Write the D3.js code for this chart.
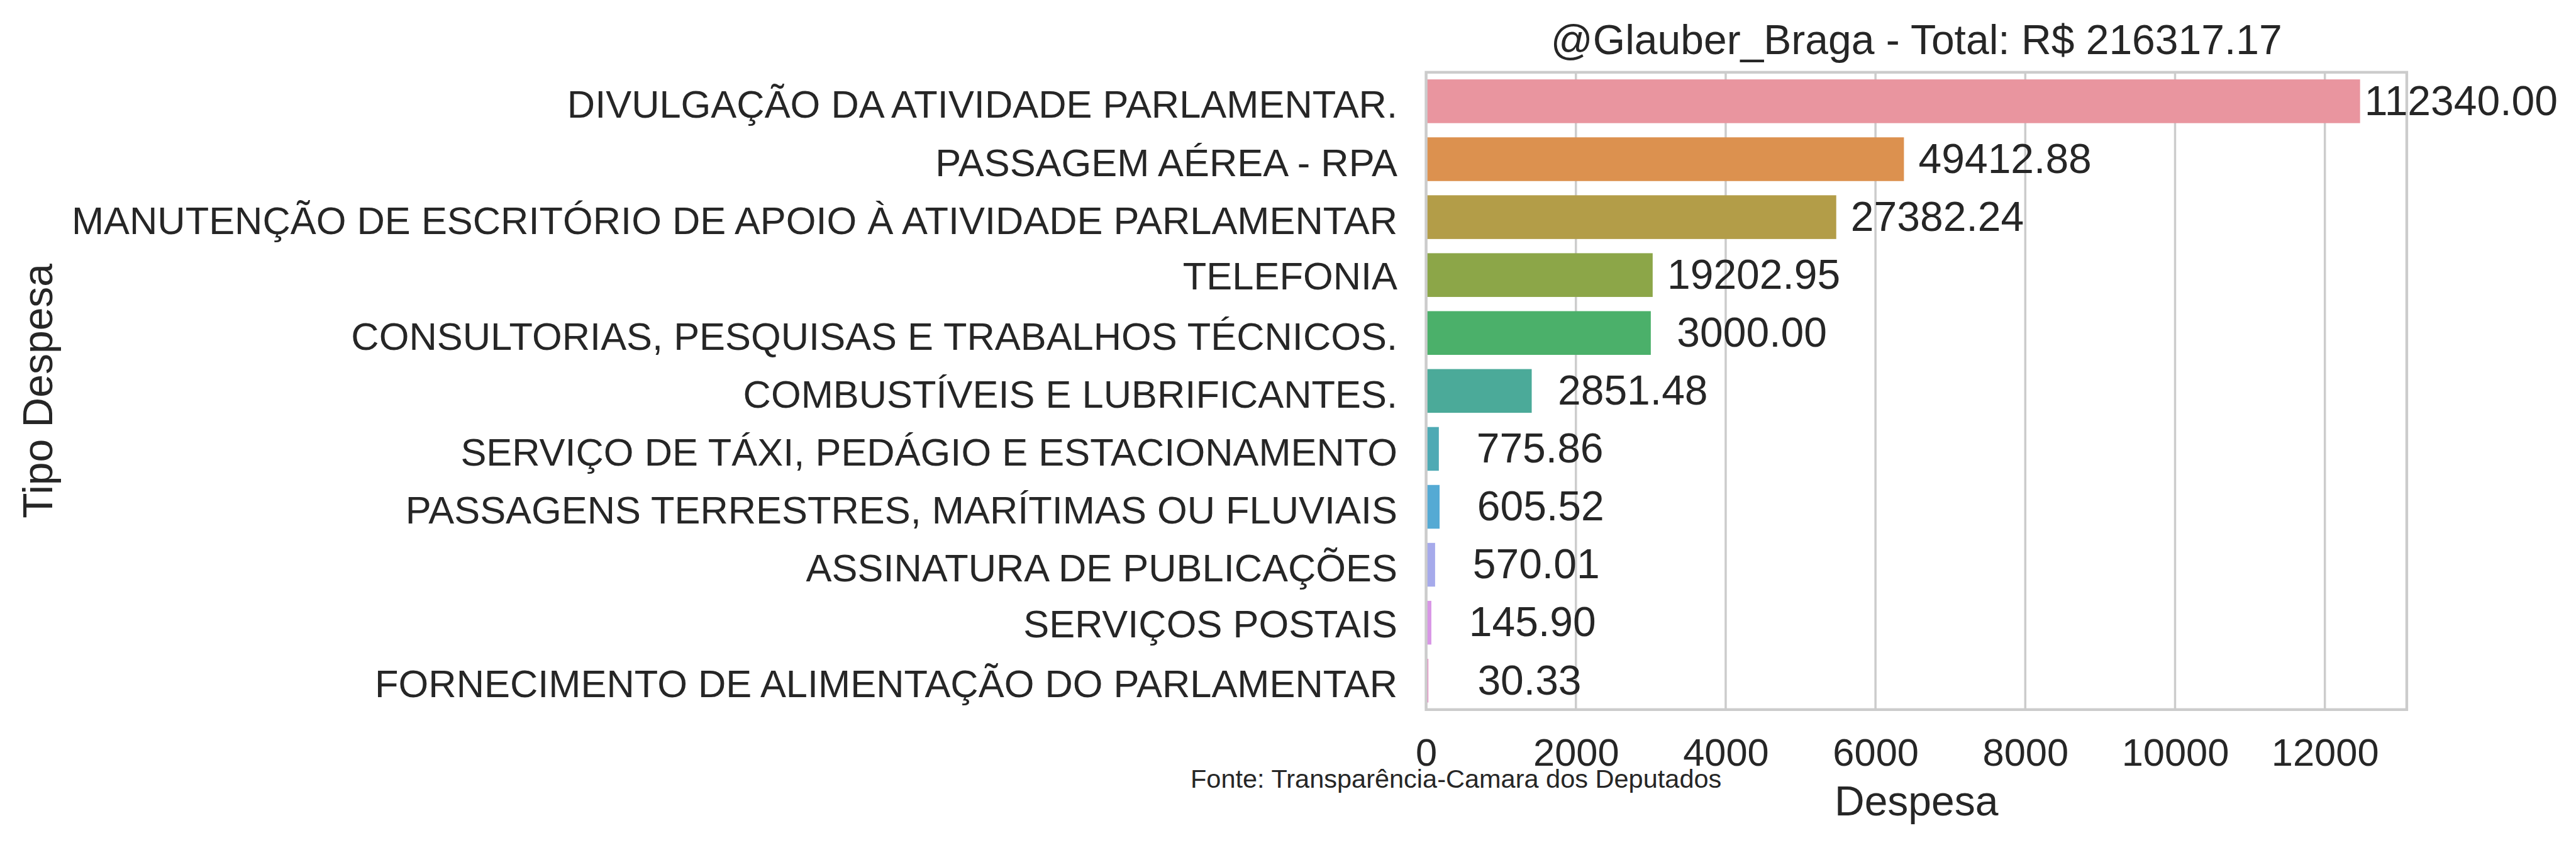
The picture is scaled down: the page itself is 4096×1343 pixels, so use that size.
<!DOCTYPE html>
<html>
<head>
<meta charset="utf-8">
<script src="https://cdn.jsdelivr.net/npm/d3@7"></script>
<style>
  html, body { margin: 0; padding: 0; background: #ffffff; }
  svg { display: block; }
  text { font-family: "Liberation Sans", Arial, sans-serif; fill: #262626; }
</style>
</head>
<body>
<script>
// ---- data ----
const categories = [
  "DIVULGAÇÃO DA ATIVIDADE PARLAMENTAR.",
  "PASSAGEM AÉREA - RPA",
  "MANUTENÇÃO DE ESCRITÓRIO DE APOIO À ATIVIDADE PARLAMENTAR",
  "TELEFONIA",
  "CONSULTORIAS, PESQUISAS E TRABALHOS TÉCNICOS.",
  "COMBUSTÍVEIS E LUBRIFICANTES.",
  "SERVIÇO DE TÁXI, PEDÁGIO E ESTACIONAMENTO",
  "PASSAGENS TERRESTRES, MARÍTIMAS OU FLUVIAIS",
  "ASSINATURA DE PUBLICAÇÕES",
  "SERVIÇOS POSTAIS",
  "FORNECIMENTO DE ALIMENTAÇÃO DO PARLAMENTAR"
];
// bar lengths (as drawn)
const barValues = [12470, 6380, 5476, 3025, 3000, 1410, 170, 180, 120, 70, 30.33];
// annotated totals
const labelValues = ["112340.00", "49412.88", "27382.24", "19202.95", "3000.00", "2851.48", "775.86", "605.52", "570.01", "145.90", "30.33"];
const colors = ["#e9959f", "#dc914f", "#b39d48", "#8ca648", "#4bb06a", "#4baa99", "#4eaab4", "#55aad4", "#a6aaeb", "#d896e6", "#e893c7"];
const xTicks = [0, 2000, 4000, 6000, 8000, 10000, 12000];
const titleText = "@Glauber_Braga - Total: R$ 216317.17";
const xLabel = "Despesa";
const yLabel = "Tipo Despesa";
const sourceText = "Fonte: Transparência-Camara dos Deputados";

(function () {
// ---- layout (scaled 0.838 from reference) ----
const W = 4096, H = 1343;
const pL = 2267.6, pR = 3826.9, pT = 114.9, pB = 1127.8;
const fsTick = 61.4, fsLabel = 66, fsSource = 41.5;
const gridColor = "#cccccc";
const FF = '"Liberation Sans", Arial, sans-serif';

const svg = d3.select("body").append("svg").attr("width", W).attr("height", H);
svg.append("rect").attr("width", W).attr("height", H).attr("fill", "#ffffff");

const x = d3.scaleLinear().domain([0, d3.max(barValues) * 1.05]).range([pL, pR]);
const y = d3.scaleBand().domain(categories).range([pT, pB]).paddingInner(0.245).paddingOuter(0.1225);

// grid (vertical)
svg.append("g").selectAll("line").data(xTicks).join("line")
  .attr("x1", d => x(d)).attr("x2", d => x(d))
  .attr("y1", pT).attr("y2", pB)
  .attr("stroke", gridColor).attr("stroke-width", 3.5);

// bars
svg.append("g").selectAll("rect").data(categories).join("rect")
  .attr("x", x(0))
  .attr("y", d => y(d))
  .attr("width", (d, i) => x(barValues[i]) - x(0))
  .attr("height", y.bandwidth())
  .attr("fill", (d, i) => colors[i]);

// spines
svg.append("rect")
  .attr("x", pL).attr("y", pT)
  .attr("width", pR - pL).attr("height", pB - pT)
  .attr("fill", "none").attr("stroke", gridColor).attr("stroke-width", 4.4);

// x axis tick labels
const xAxis = d3.axisBottom(x).tickValues(xTicks).tickSize(0).tickPadding(0).tickFormat(d3.format("d"));
const gx = svg.append("g").attr("transform", `translate(0,${pB})`).call(xAxis);
gx.select(".domain").remove();
gx.selectAll("text")
  .attr("dy", null).attr("y", 1217.5 - pB)
  .attr("font-size", fsTick)
  .style("font-family", FF)
  .attr("fill", "#262626");

// y axis tick labels
const yAxis = d3.axisLeft(y).tickSize(0).tickPadding(0);
const gy = svg.append("g").attr("transform", `translate(${pL},0)`).call(yAxis);
gy.select(".domain").remove();
const accent = /[ÁÉÍÓÚÀÃÕÂÊÔ]/;
gy.selectAll("text")
  .attr("dy", null)
  .attr("x", 2222 - pL)
  .attr("y", d => accent.test(d) ? 26.5 : 23)
  .attr("text-anchor", "end")
  .attr("font-size", fsTick)
  .style("font-family", FF)
  .attr("fill", "#262626");

// bar value labels
const labelOffset = 1350; // data units, to right of bar end (centered)
svg.append("g").selectAll("text").data(categories).join("text")
  .attr("x", (d, i) => x(barValues[i] + labelOffset))
  .attr("y", d => y(d) + y.bandwidth() / 2 + 21.8)
  .attr("text-anchor", "middle")
  .attr("font-size", fsLabel)
  .text((d, i) => labelValues[i]);

// title
svg.append("text")
  .attr("x", (pL + pR) / 2).attr("y", 86.4)
  .attr("text-anchor", "middle").attr("font-size", fsLabel)
  .text(titleText);

// x label
svg.append("text")
  .attr("x", (pL + pR) / 2).attr("y", 1295.5)
  .attr("text-anchor", "middle").attr("font-size", fsLabel)
  .text(xLabel);

// y label
svg.append("text")
  .attr("transform", `translate(83,${(pT + pB) / 2}) rotate(-90)`)
  .attr("text-anchor", "middle").attr("font-size", fsLabel)
  .text(yLabel);

// source
svg.append("text")
  .attr("x", 1893).attr("y", 1252)
  .attr("font-size", fsSource)
  .text(sourceText);
})();
</script>
</body>
</html>
